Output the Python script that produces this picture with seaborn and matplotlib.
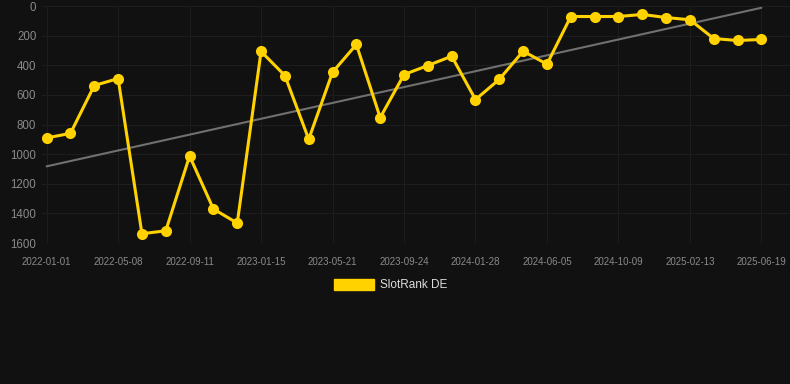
import numpy as np
import pandas as pd
import matplotlib
matplotlib.use('Agg')
import matplotlib.pyplot as plt
import seaborn as sns
from matplotlib.patches import Patch

# rank values (lower is better, axis inverted)
ranks = [890, 859, 536, 489, 1537, 1517, 1012, 1370, 1465, 306,
         469, 899, 446, 259, 753, 462, 401, 338, 631, 494,
         304, 392, 70, 70, 70, 56, 77, 92, 219, 232, 225]
tick_labels = ['2022-01-01', '2022-05-08', '2022-09-11', '2023-01-15',
               '2023-05-21', '2023-09-24', '2024-01-28', '2024-06-05',
               '2024-10-09', '2025-02-13', '2025-06-19']
y_ticks = [0, 200, 400, 600, 800, 1000, 1200, 1400, 1600]
series_name = 'SlotRank DE'

df = pd.DataFrame({'idx': np.arange(len(ranks)), 'rank': ranks})

sns.set_theme(style='dark')
plt.rcParams['font.family'] = ['Liberation Sans', 'DejaVu Sans']

bg = '#111111'
gold = '#FFD200'

fig = plt.figure(figsize=(7.9, 3.84), dpi=100, facecolor=bg)
ax = fig.add_axes([0.053, 0.367, 0.947, 0.617])
ax.set_facecolor(bg)

# trend line
sns.regplot(data=df, x='idx', y='rank', scatter=False, ci=None, ax=ax,
            line_kws={'color': '#707070', 'linewidth': 1.5})

sns.lineplot(data=df, x='idx', y='rank', ax=ax, color=gold, linewidth=2.2,
             marker='o', markersize=8, markeredgewidth=0)

ax.set_ylim(1600, 0)
ax.set_xlim(-0.2, 31.2)
ax.set_yticks(y_ticks)
ax.set_xticks(np.arange(0, len(ranks), 3))
ax.set_xticklabels(tick_labels)
ax.tick_params(axis='y', colors='#8a8a8a', labelsize=8.3, length=0, pad=4)
ax.tick_params(axis='x', colors='#8a8a8a', labelsize=7, length=0, pad=10)
ax.grid(True, color='#1d1d1d', linewidth=0.8)
for s in ax.spines.values():
    s.set_visible(False)
ax.set_xlabel('')
ax.set_ylabel('')

fig.legend(handles=[Patch(facecolor=gold, edgecolor=gold, label=series_name)],
           loc='center', bbox_to_anchor=(0.494, 0.258), frameon=False,
           handlelength=3.4, handleheight=1.1, handletextpad=0.5,
           fontsize=8.5, labelcolor='#dddddd')

fig.savefig('out.png', dpi=100, facecolor=bg)
